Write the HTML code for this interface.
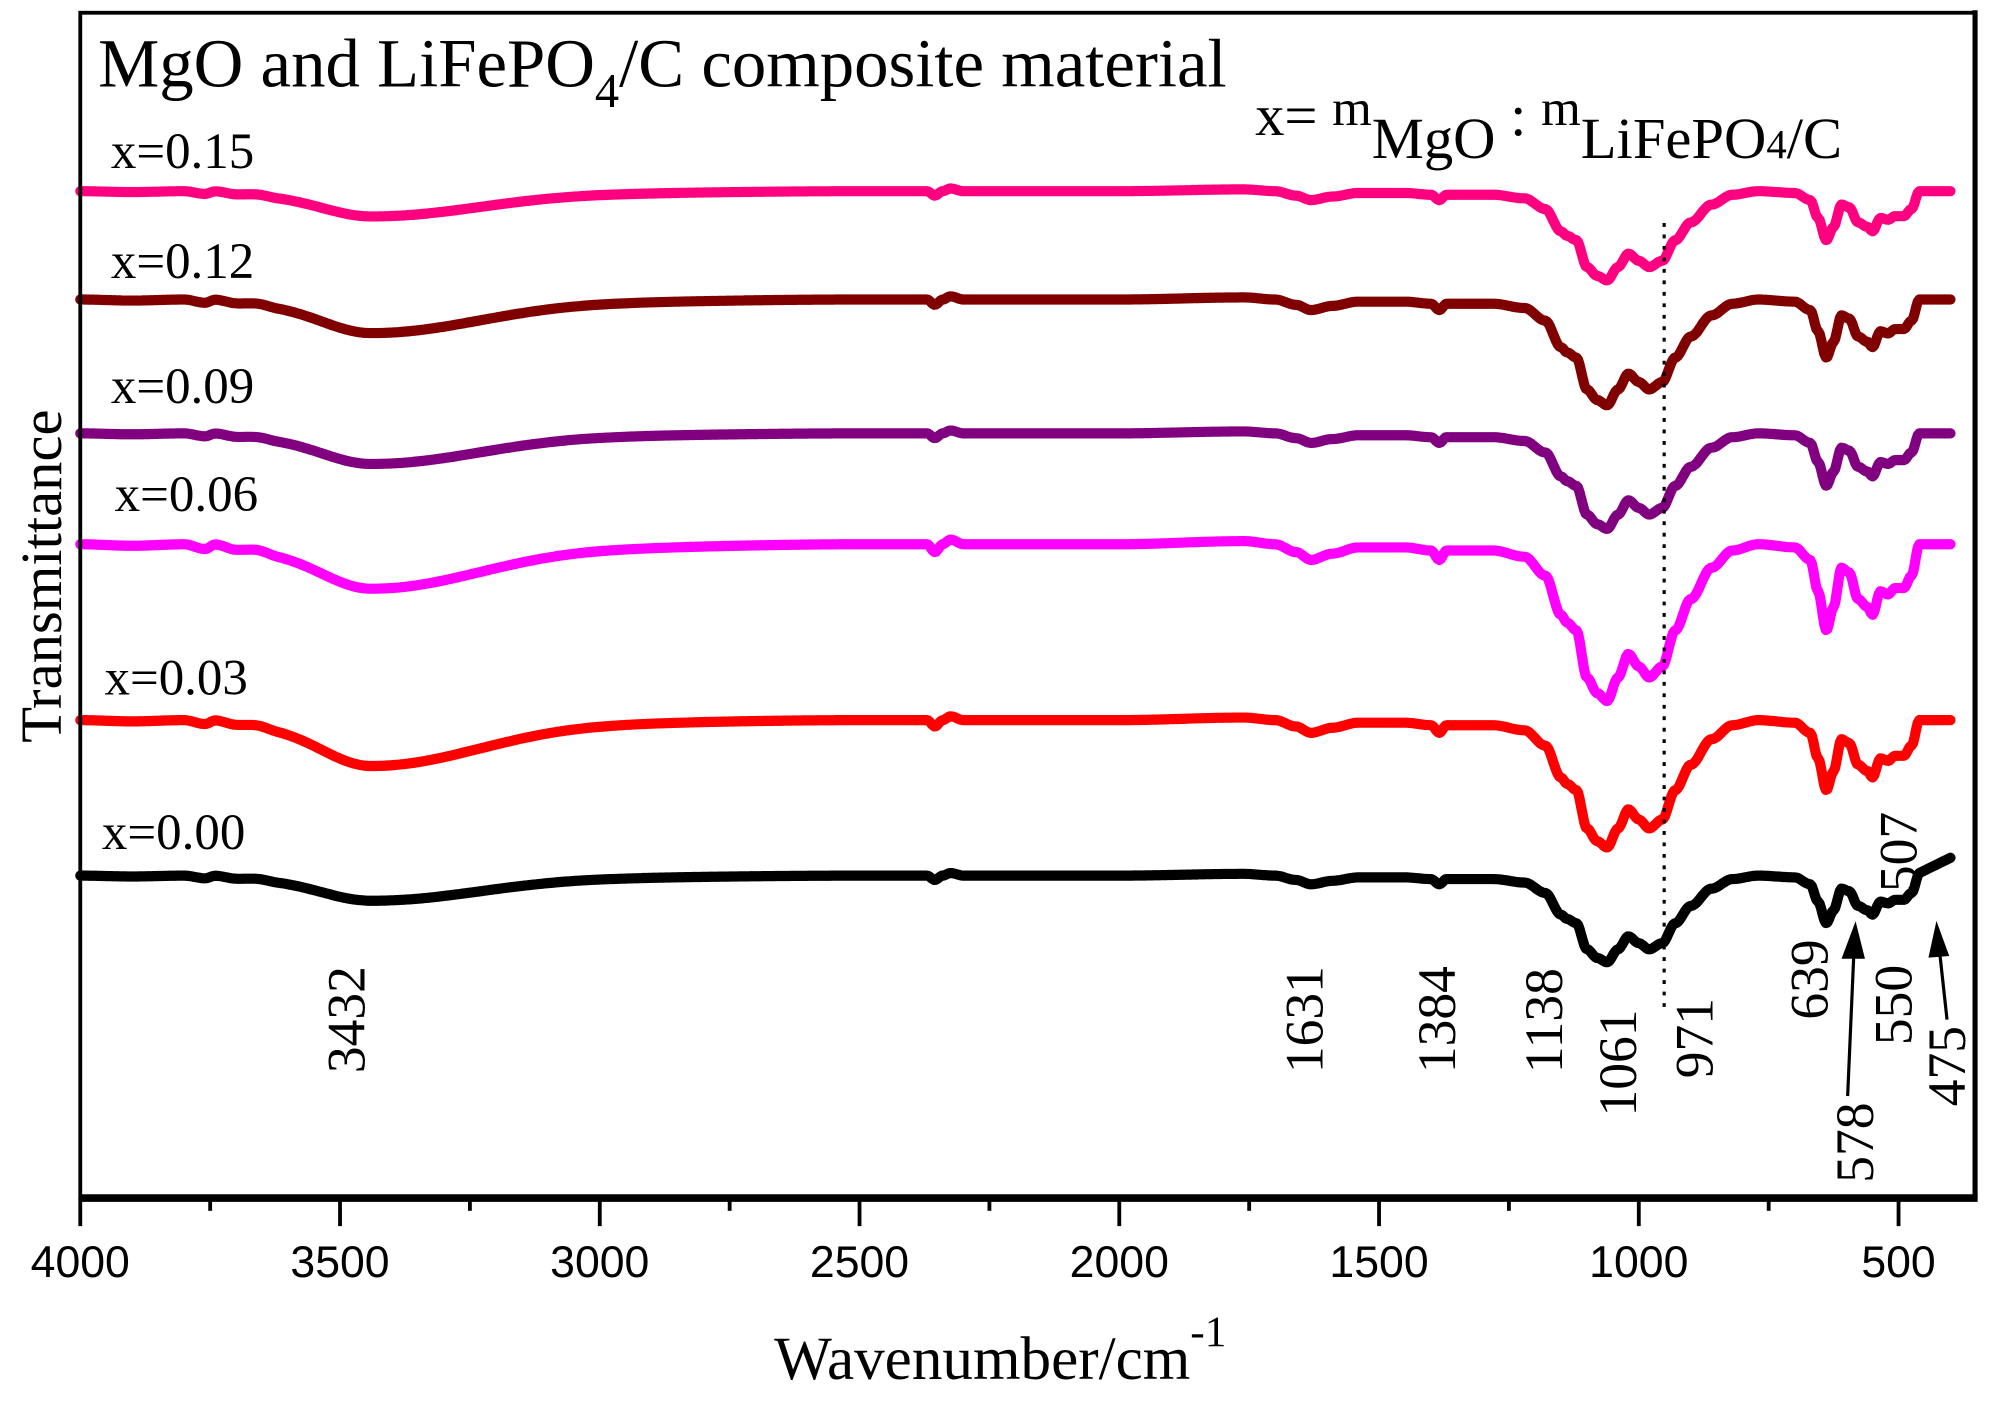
<!DOCTYPE html>
<html><head><meta charset="utf-8"><style>
html,body{margin:0;padding:0;background:#fff}
svg{display:block}
</style></head><body>
<svg id="s" width="1998" height="1402" viewBox="0 0 1568 1100" preserveAspectRatio="none" xmlns="http://www.w3.org/2000/svg">
<rect x="0" y="0" width="1568" height="1100" fill="#fff"/>
<g id="curves"></g>
<line x1="1306" y1="175" x2="1306" y2="790" stroke="#000" stroke-width="2.5" stroke-dasharray="3,6"/>
<rect x="63" y="10" width="1487" height="930" fill="none" stroke="#000" stroke-width="3"/>
<line x1="63" y1="940" x2="1552" y2="940" stroke="#000" stroke-width="6"/>
<line x1="1550" y1="8" x2="1550" y2="940" stroke="#000" stroke-width="4"/>
<g id="ticks" stroke="#000" stroke-width="3"></g>
<g font-family="Liberation Sans, sans-serif" font-size="35" text-anchor="middle" id="tl"></g>
<g font-family="Liberation Serif, serif" fill="#000">
<text x="77" y="68" font-size="54">MgO and LiFePO<tspan font-size="38" dy="16">4</tspan><tspan dy="-16">/C composite material</tspan></text>
<text x="985" y="106" font-size="46">x= <tspan font-size="40" dy="-8">m</tspan><tspan dy="26">MgO</tspan><tspan dy="-18"> : </tspan><tspan font-size="40" dy="-8">m</tspan><tspan dy="26">LiFePO</tspan><tspan font-size="32">4</tspan><tspan>/C</tspan></text>
<text x="87" y="132" font-size="40">x=0.15</text>
<text x="87" y="218" font-size="40">x=0.12</text>
<text x="87" y="316" font-size="40">x=0.09</text>
<text x="90" y="401" font-size="40">x=0.06</text>
<text x="82" y="545" font-size="40">x=0.03</text>
<text x="80" y="666" font-size="40">x=0.00</text>
<text transform="translate(48,452) rotate(-90)" font-size="46" text-anchor="middle">Transmittance</text>
<text x="785" y="1082" font-size="48" text-anchor="middle">Wavenumber/cm<tspan font-size="34" dy="-26">-1</tspan></text>
<g font-size="42">
<text transform="translate(286,842) rotate(-90)">3432</text>
<text transform="translate(1038,842) rotate(-90)">1631</text>
<text transform="translate(1142,842) rotate(-90)">1384</text>
<text transform="translate(1226,842) rotate(-90)">1138</text>
<text transform="translate(1284,876) rotate(-90)">1061</text>
<text transform="translate(1344,846) rotate(-90)">971</text>
<text transform="translate(1434,800) rotate(-90)">639</text>
<text transform="translate(1500,820) rotate(-90)">550</text>
<text transform="translate(1504,700) rotate(-90)">507</text>
<text transform="translate(1470,928) rotate(-90)">578</text>
<text transform="translate(1542,868) rotate(-90)">475</text>
</g>
</g>
<g stroke="#000" stroke-width="2.5" fill="#000">
<line x1="1450" y1="860" x2="1455" y2="745"/>
<polygon points="1447,751 1462,751 1456,727"/>
<line x1="1528" y1="800" x2="1522" y2="745"/>
<polygon points="1515,750 1528,749 1520,727"/>
</g>
</svg>
<script>
var X=function(w){return 63+(4000-w)*0.4077;};
var main=[[4000,0],[3900,0.01],[3800,0.0],[3760,0.03],[3740,0.0],[3700,0.03],[3660,0.02],[3620,0.04],[3400,0.04],[3000,0.02],[2500,0.0],[2370,0.0],[2355,0.05],[2340,0.0],[2325,-0.03],[2300,0.0],[2000,0.0],[1760,-0.02],[1700,0.0],[1660,0.05],[1631,0.1],[1590,0.06],[1540,0.02],[1450,0.02],[1400,0.04],[1384,0.1],[1370,0.04],[1280,0.04],[1220,0.08],[1180,0.2],[1150,0.45],[1138,0.5],[1120,0.55],[1100,0.85],[1080,0.95],[1061,1.0],[1040,0.85],[1020,0.7],[1000,0.78],[980,0.85],[955,0.78],[930,0.55],[900,0.35],[860,0.15],[820,0.04],[770,0.0],[700,0.02],[670,0.1],[655,0.3],[639,0.55],[625,0.4],[610,0.15],[595,0.18],[578,0.35],[560,0.4],[550,0.45],[535,0.3],[520,0.32],[507,0.28],[490,0.28],[475,0.2],[460,0.0],[400,0.0]];
function oh(w){var s=w>3440?120:260;var d=(w-3440)/s;return Math.exp(-d*d*0.8);}
function val(w){for(var i=0;i<main.length-1;i++){var a=main[i],b=main[i+1];if(w<=a[0]&&w>=b[0]){var t=(a[0]-w)/(a[0]-b[0]);var tt=t*t*(3-2*t);return a[1]+tt*(b[1]-a[1]);}}return 0;}
var S=[["#FF0080",150,70,17,0],["#800000",235,83,23,0],["#800080",340,75,21,0],["#FF00FF",427,123,30,0],["#FF0000",565,100,32,0],["#000000",687,68,17,1]];
var g=document.getElementById('curves'),h='';
S.forEach(function(s){var p=[];for(var w=4000;w>=400;w-=3){var y=s[1]+s[2]*val(w)+s[3]*oh(w);if(s[4]&&w<470){y-=(470-w)*0.2;}p.push(X(w).toFixed(1)+','+y.toFixed(1));}
h+='<polyline points="'+p.join(' ')+'" fill="none" stroke="'+s[0]+'" stroke-width="8" stroke-linejoin="round" stroke-linecap="round"/>';});
g.innerHTML=h;
var t='',l='';
for(var w=4000;w>=400;w-=250){var x=X(w);var maj=(w%500==0);t+='<line x1="'+x+'" y1="940" x2="'+x+'" y2="'+(maj?962:950)+'"/>';if(maj)l+='<text x="'+x+'" y="1002">'+w+'</text>';}
document.getElementById('ticks').innerHTML=t;document.getElementById('tl').innerHTML=l;
</script>
</body></html>
